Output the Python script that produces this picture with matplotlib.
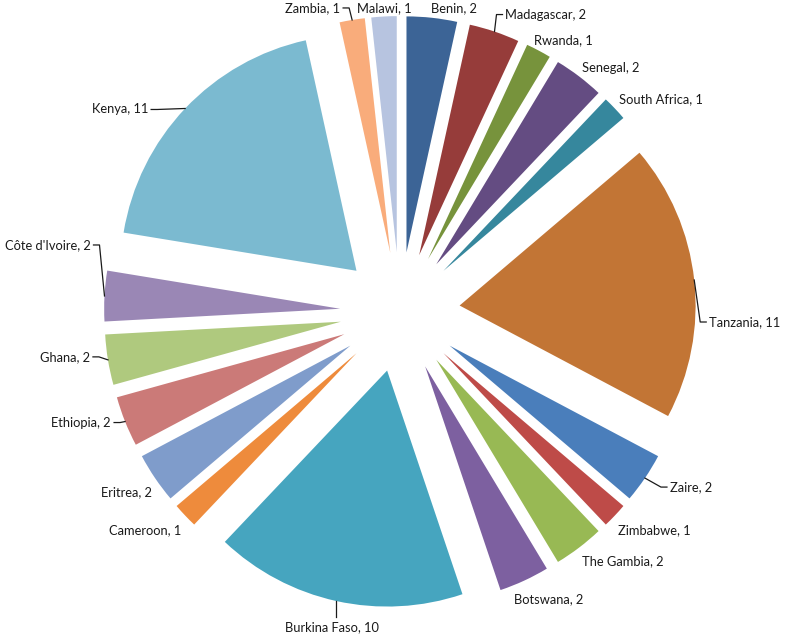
import numpy as np
import matplotlib
matplotlib.use('Agg')
import matplotlib.pyplot as plt

# 数据（顺时针，从12点方向开始）
countries = ['Benin', 'Madagascar', 'Rwanda', 'Senegal', 'South Africa', 'Tanzania',
             'Zaire', 'Zimbabwe', 'The Gambia', 'Botswana', 'Burkina Faso', 'Cameroon',
             'Eritrea', 'Ethiopia', 'Ghana', "Côte d'Ivoire", 'Kenya', 'Zambia', 'Malawi']
counts = [2, 2, 1, 2, 1, 11, 2, 1, 2, 2, 10, 1, 2, 2, 2, 2, 11, 1, 1]

colors = ['#3C6496', '#963C3A', '#77933C', '#644C82', '#36879D', '#C27535',
          '#4A7EBB', '#BE4B48', '#98B954', '#7D60A0', '#46A5BF', '#EE8B3C',
          '#7F9CCB', '#CB7A78', '#AFC97E', '#9A87B5', '#7BBAD0', '#F9AC7B', '#B7C4E0']

# 标签相对扇区外缘中点的偏移（像素，y向下），以及对齐方式
label_nudge = {
    'Benin': (-1, -10, 'left'), 'Madagascar': (11, -17, 'left'),
    'Rwanda': (-5, -10, 'left'), 'Senegal': (3, -8, 'left'),
    'South Africa': (4, -9, 'left'), 'Tanzania': (15, 42, 'left'),
    'Zaire': (25, 9, 'left'), 'Zimbabwe': (3, 15, 'left'),
    'The Gambia': (3, 14, 'left'), 'Botswana': (-10, 19, 'left'),
    'Burkina Faso': (-4, 26, 'center'), 'Cameroon': (-4, 15, 'right'),
    'Eritrea': (-3, 14, 'right'), 'Ethiopia': (-14, 1, 'right'),
    'Ghana': (-18, -3, 'right'), "Côte d'Ivoire": (-14, -51, 'right'),
    'Kenya': (-37, 1, 'right'), 'Zambia': (-12, -12, 'right'),
    'Malawi': (0, -8, 'center'),
}
leaders = ['Madagascar', 'Tanzania', 'Zaire', 'Burkina Faso', 'Ethiopia',
           'Ghana', "Côte d'Ivoire", 'Kenya', 'Zambia']

PX = 236.0        # 半径对应像素
EXPLODE = 0.254
CX, CY = 400, 312  # 圆心像素位置
W, H = 785, 635

fig = plt.figure(figsize=(W / 100, H / 100), dpi=100)
ax = fig.add_axes([0, 0, 1, 1])

wedges, _ = ax.pie(counts, colors=colors, explode=[EXPLODE] * len(counts),
                   startangle=90, counterclock=False, radius=1,
                   wedgeprops=dict(linewidth=0))

# pie() 会重设坐标范围，所以之后再设
ax.set_aspect('auto')
ax.set_xlim(-CX / PX, (W - CX) / PX)
ax.set_ylim(-(H - CY) / PX, CY / PX)
ax.axis('off')

def px(dx, dy):
    return dx / PX, -dy / PX

for w, name, val in zip(wedges, countries, counts):
    ang = np.deg2rad((w.theta1 + w.theta2) / 2)
    ox, oy = (1 + EXPLODE) * np.cos(ang), (1 + EXPLODE) * np.sin(ang)
    dx, dy, ha = label_nudge[name]
    nx, ny = px(dx, dy)
    tx, ty = ox + nx, oy + ny
    ax.text(tx, ty, f'{name}, {val}', ha=ha, va='center', fontsize=9.3,
            family=['Lato', 'DejaVu Sans'], color='#1a1a1a')
    if name in leaders:
        if ha == 'left':
            ex, ey = tx - 3 / PX, ty
            xs, ys = [ox, ex - 6 / PX, ex], [oy, ey, ey]
        elif ha == 'right':
            ex, ey = tx + 3 / PX, ty
            xs, ys = [ox, ex + 6 / PX, ex], [oy, ey, ey]
        else:
            xs, ys = [ox, ox], [oy, ty + 10 / PX]
        ax.plot(xs, ys, color='#1a1a1a', linewidth=0.9)

fig.savefig('out.png', dpi=100)
